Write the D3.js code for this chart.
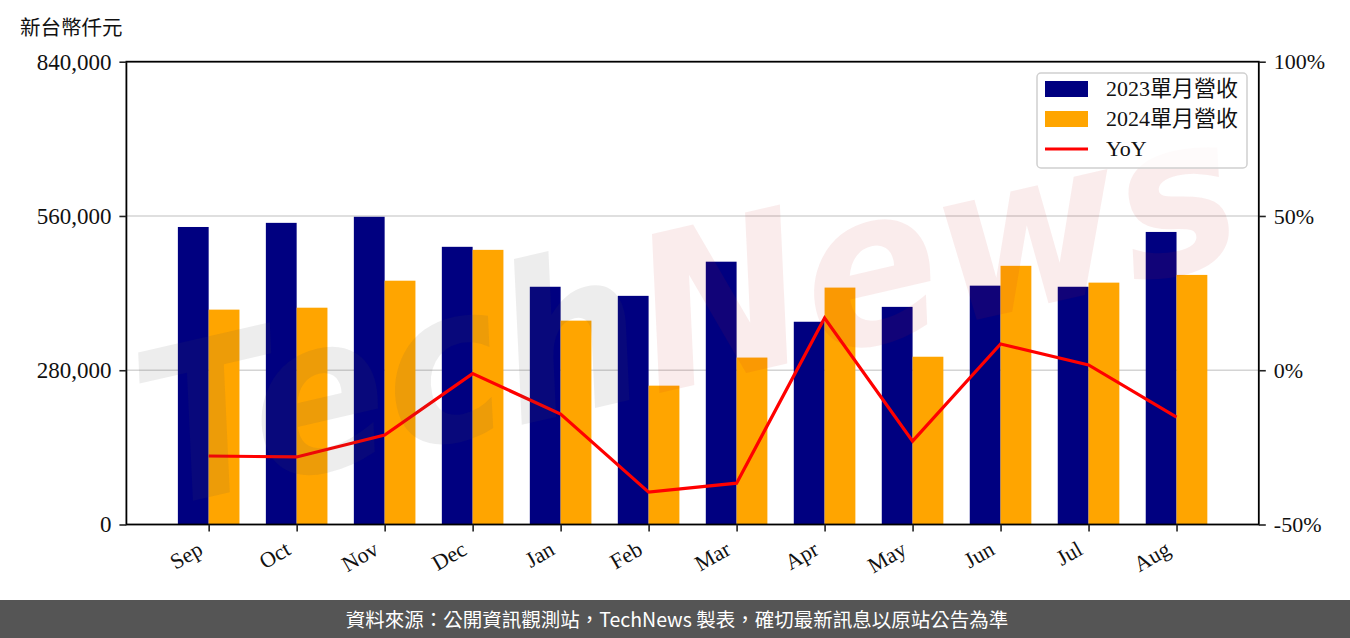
<!DOCTYPE html>
<html>
<head>
<meta charset="utf-8">
<script src="https://cdn.jsdelivr.net/npm/d3@7"></script>
<style>
  body { margin: 0; background: #fff; }
  svg { display: block; }
</style>
</head>
<body>
<script>
var W = 1350, H = 638;

// data
var months = ["Sep", "Oct", "Nov", "Dec", "Jan", "Feb", "Mar", "Apr", "May", "Jun", "Jul", "Aug"];
var rev2023 = [540000, 547500, 558500, 504000, 431500, 415000, 477000, 368000, 395000, 433500, 431500, 531000];
var rev2024 = [390000, 393500, 442500, 498500, 370000, 252000, 303000, 430000, 304500, 469500, 439000, 453000];
var yoy = [-27.8, -28.1, -21.0, -1.1, -14.2, -39.5, -36.6, 16.9, -23.0, 8.5, 1.7, -15.2];
var leftTicks = [0, 280000, 560000, 840000];
var rightTicks = [-50, 0, 50, 100];
var seriesNames = ["2023單月營收", "2024單月營收", "YoY"];

// plot box (window.top is reserved, so prefixed names)
var pLeft = 126.4, pRight = 1258.8, pTop = 61.7, pBottom = 524.5;
var barW = 0.35;

var serif = "'Liberation Serif', 'Noto Sans CJK TC', serif";

var svg = d3.select("body").append("svg")
    .attr("width", W)
    .attr("height", H);

var x = d3.scaleLinear()
    .domain([-0.35 - 0.585, months.length - 1 + 0.35 + 0.585])
    .range([pLeft, pRight]);

var y = d3.scaleLinear()
    .domain([0, 840000])
    .range([pBottom, pTop]);

var y2 = d3.scaleLinear()
    .domain([-50, 100])
    .range([pBottom, pTop]);

//grid lines behind the bars
svg.append("g")
    .selectAll("line")
    .data(leftTicks.slice(1, 3))
    .enter()
    .append("line")
    .attr("x1", pLeft).attr("x2", pRight)
    .attr("y1", function(d){ return y(d); })
    .attr("y2", function(d){ return y(d); })
    .attr("stroke", "#d4d4d4")
    .attr("stroke-width", 1.6);

//bars
svg.append("g")
    .selectAll("rect")
    .data(rev2023)
    .enter()
    .append("rect")
    .attr("x", function(d, i){ return x(i - barW); })
    .attr("y", function(d){ return y(d); })
    .attr("width", x(barW) - x(0))
    .attr("height", function(d){ return y(0) - y(d); })
    .attr("fill", "#000080");

svg.append("g")
    .selectAll("rect")
    .data(rev2024)
    .enter()
    .append("rect")
    .attr("x", function(d, i){ return x(i); })
    .attr("y", function(d){ return y(d); })
    .attr("width", x(barW) - x(0))
    .attr("height", function(d){ return y(0) - y(d); })
    .attr("fill", "#ffa500");

//yoy line
var line = d3.line()
    .x(function(d, i){ return x(i); })
    .y(function(d){ return y2(d); });

svg.append("path")
    .datum(yoy)
    .attr("d", line)
    .attr("fill", "none")
    .attr("stroke", "#ff0000")
    .attr("stroke-width", 3.2);

//watermark, clipped to plot area
svg.append("clipPath").attr("id", "plotclip")
    .append("rect")
    .attr("x", pLeft).attr("y", pTop)
    .attr("width", pRight - pLeft).attr("height", pBottom - pTop);

var wm = svg.append("g")
    .attr("clip-path", "url(#plotclip)")
    .append("g")
    .attr("transform", "translate(685,300) rotate(-13)");

var wmText = wm.append("text")
    .attr("x", 0).attr("y", 85)
    .attr("text-anchor", "middle")
    .style("font-family", "'DejaVu Sans', sans-serif")
    .style("font-style", "italic")
    .style("font-weight", "bold")
    .style("font-size", "215px")
    .attr("textLength", 1120)
    .attr("lengthAdjust", "spacingAndGlyphs");

wmText.append("tspan").text("Tech")
    .attr("fill", "rgba(75,75,75,0.1)");
wmText.append("tspan").text("News")
    .attr("fill", "rgba(200,30,30,0.085)");

//frame
svg.append("rect")
    .attr("x", pLeft).attr("y", pTop)
    .attr("width", pRight - pLeft).attr("height", pBottom - pTop)
    .attr("fill", "none")
    .attr("stroke", "#000")
    .attr("stroke-width", 1.8);

//left axis
var yAxis = svg.append("g")
    .attr("transform", "translate(" + pLeft + ",0)")
    .call(d3.axisLeft(y).tickValues(leftTicks).tickSize(7).tickPadding(8)
        .tickFormat(d3.format(",")));

//right axis
var y2Axis = svg.append("g")
    .attr("transform", "translate(" + pRight + ",0)")
    .call(d3.axisRight(y2).tickValues(rightTicks).tickSize(7).tickPadding(8)
        .tickFormat(function(d){ return d + "%"; }));

//bottom axis
var xAxis = svg.append("g")
    .attr("transform", "translate(0," + pBottom + ")")
    .call(d3.axisBottom(x).tickValues(d3.range(months.length)).tickSize(7)
        .tickFormat(function(d){ return months[d]; }));

[yAxis, y2Axis, xAxis].forEach(function(a){
    a.select(".domain").remove();
    a.selectAll(".tick line").attr("stroke", "#222").attr("stroke-width", 1.6);
    a.selectAll("text")
        .style("font-family", serif)
        .style("font-size", "22px")
        .attr("fill", "#111");
});
yAxis.selectAll("text").style("font-size", "23px");

xAxis.selectAll(".tick text")
    .attr("y", 0).attr("dy", 0)
    .attr("text-anchor", "end")
    .attr("transform", "translate(-5,29) rotate(-30)");

//unit label
svg.append("text")
    .attr("x", 20).attr("y", 35)
    .style("font-family", "'Noto Sans CJK TC', sans-serif")
    .style("font-size", "20.5px")
    .attr("fill", "#111")
    .text("新台幣仟元");

//legend
var lg = svg.append("g");
lg.append("rect")
    .attr("x", 1037).attr("y", 73)
    .attr("width", 210).attr("height", 95)
    .attr("rx", 4)
    .attr("fill", "rgba(255,255,255,0.8)")
    .attr("stroke", "#d0d0d0")
    .attr("stroke-width", 1.5);

var legendColors = ["#000080", "#ffa500", "#ff0000"];
var legendRow = d3.scaleLinear().domain([0, 2]).range([89, 149]);

seriesNames.forEach(function(name, i){
    var cy = legendRow(i);
    if (i < 2) {
        lg.append("rect")
            .attr("x", 1045).attr("y", cy - 8)
            .attr("width", 43).attr("height", 16)
            .attr("fill", legendColors[i]);
    } else {
        lg.append("line")
            .attr("x1", 1045).attr("x2", 1088)
            .attr("y1", cy).attr("y2", cy)
            .attr("stroke", legendColors[i])
            .attr("stroke-width", 3.2);
    }
    lg.append("text")
        .attr("x", 1106).attr("y", cy + 7)
        .style("font-family", serif)
        .style("font-size", "22px")
        .attr("fill", "#111")
        .text(name);
});

//footer
svg.append("rect")
    .attr("x", 0).attr("y", 600)
    .attr("width", W).attr("height", H - 600)
    .attr("fill", "#555555");

svg.append("text")
    .attr("x", 677).attr("y", 627)
    .attr("text-anchor", "middle")
    .style("font-family", "'Noto Sans CJK TC', sans-serif")
    .style("font-size", "19.5px")
    .attr("fill", "#ffffff")
    .text("資料來源：公開資訊觀測站，TechNews 製表，確切最新訊息以原站公告為準");
</script>
</body>
</html>
